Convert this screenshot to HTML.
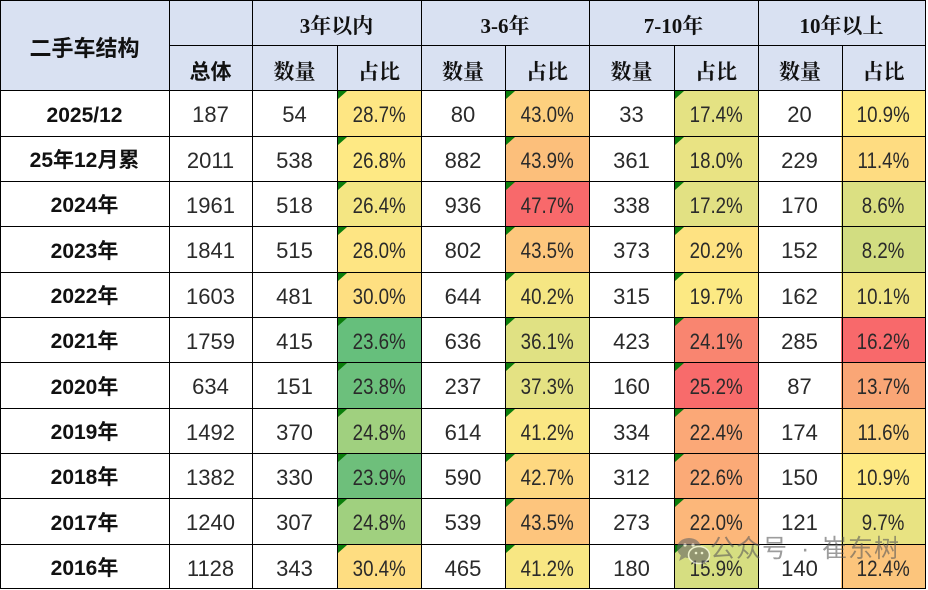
<!DOCTYPE html>
<html><head><meta charset="utf-8">
<style>
*{box-sizing:border-box;margin:0;padding:0}
body{width:928px;height:590px;background:#fff;position:relative;overflow:hidden;font-family:"Liberation Sans","Noto Sans CJK SC",sans-serif}
.a{position:absolute;display:flex;align-items:center;justify-content:center;white-space:nowrap}
.hs{font-family:"Liberation Sans","Noto Sans CJK SC",sans-serif;font-weight:bold;color:#111}
.hr{font-family:"Liberation Serif","Noto Serif CJK SC",serif;font-weight:bold;color:#111;font-size:21px;padding-top:5px}
#g{position:absolute;left:0;top:90px;display:grid;grid-template-columns:169px 83px 85px 84px 84px 84px 85px 84px 83px 84px;grid-template-rows:46px 45px 45px 46px 45px 45px 46px 45px 45px 46px 45px}
#g div{display:flex;align-items:center;justify-content:center;padding-top:4px;font-size:22px;color:#2a2a2a;position:relative;white-space:nowrap}
#g div.l{font-weight:bold;font-size:21px;color:#111;line-height:1}
#g div.p span{display:inline-block;transform:scaleX(0.85)}
#g div.t::before{content:"";position:absolute;left:1px;top:1px;border-top:8px solid #0B7D0B;border-right:9px solid transparent}
.h{position:absolute;height:1px;background:#000}
.v{position:absolute;width:1px;background:#000}
.wm{position:absolute;top:533px;font-family:'Liberation Sans','Noto Sans CJK SC',sans-serif;font-size:25px;line-height:32px;color:rgba(90,90,90,0.6);white-space:nowrap}
</style></head><body>
<div style="position:absolute;left:0;top:0;width:926px;height:90px;background:#D9E1F2"></div>

<div class="a hs" style="left:0;top:0;width:169px;height:90px;font-size:22px;padding-top:4px">二手车结构</div>
<div class="a hs" style="left:169px;top:45px;width:83px;height:45px;font-size:21px;padding-top:6px">总体</div>
<div class="a hr" style="left:252px;top:0;width:169px;height:45px">3年以内</div>
<div class="a hr" style="left:421px;top:0;width:168px;height:45px">3-6年</div>
<div class="a hr" style="left:589px;top:0;width:169px;height:45px">7-10年</div>
<div class="a hr" style="left:758px;top:0;width:167px;height:45px">10年以上</div>
<div class="a hr" style="left:252px;top:45px;width:85px;height:45px;padding-top:6px">数量</div>
<div class="a hr" style="left:337px;top:45px;width:84px;height:45px;padding-top:6px">占比</div>
<div class="a hr" style="left:421px;top:45px;width:84px;height:45px;padding-top:6px">数量</div>
<div class="a hr" style="left:505px;top:45px;width:84px;height:45px;padding-top:6px">占比</div>
<div class="a hr" style="left:589px;top:45px;width:85px;height:45px;padding-top:6px">数量</div>
<div class="a hr" style="left:674px;top:45px;width:84px;height:45px;padding-top:6px">占比</div>
<div class="a hr" style="left:758px;top:45px;width:84px;height:45px;padding-top:6px">数量</div>
<div class="a hr" style="left:842px;top:45px;width:83px;height:45px;padding-top:6px">占比</div>

<div id="g">
<div class="l">2025/12</div><div>187</div><div>54</div><div class="p t" style="background:#FEE683"><span>28.7%</span></div><div>80</div><div class="p t" style="background:#FDD07E"><span>43.0%</span></div><div>33</div><div class="p t" style="background:#E4E283"><span>17.4%</span></div><div>20</div><div class="p" style="background:#FEE983"><span>10.9%</span></div>
<div class="l">25年12月累</div><div>2011</div><div>538</div><div class="p t" style="background:#FEE984"><span>26.8%</span></div><div>882</div><div class="p t" style="background:#FCBF7B"><span>43.9%</span></div><div>361</div><div class="p t" style="background:#E9E383"><span>18.0%</span></div><div>229</div><div class="p" style="background:#FEDC81"><span>11.4%</span></div>
<div class="l">2024年</div><div>1961</div><div>518</div><div class="p t" style="background:#F4E683"><span>26.4%</span></div><div>936</div><div class="p t" style="background:#F8696B"><span>47.7%</span></div><div>338</div><div class="p t" style="background:#E2E183"><span>17.2%</span></div><div>170</div><div class="p" style="background:#DBE082"><span>8.6%</span></div>
<div class="l">2023年</div><div>1841</div><div>515</div><div class="p t" style="background:#FEE583"><span>28.0%</span></div><div>802</div><div class="p t" style="background:#FDC77D"><span>43.5%</span></div><div>373</div><div class="p t" style="background:#FEE282"><span>20.2%</span></div><div>152</div><div class="p" style="background:#D2DD81"><span>8.2%</span></div>
<div class="l">2022年</div><div>1603</div><div>481</div><div class="p t" style="background:#FEDF81"><span>30.0%</span></div><div>644</div><div class="p t" style="background:#F5E683"><span>40.2%</span></div><div>315</div><div class="p t" style="background:#FCE983"><span>19.7%</span></div><div>162</div><div class="p" style="background:#F0E583"><span>10.1%</span></div>
<div class="l">2021年</div><div>1759</div><div>415</div><div class="p t" style="background:#66BF7C"><span>23.6%</span></div><div>636</div><div class="p t" style="background:#E0E183"><span>36.1%</span></div><div>423</div><div class="p t" style="background:#F98570"><span>24.1%</span></div><div>285</div><div class="p" style="background:#F8696B"><span>16.2%</span></div>
<div class="l">2020年</div><div>634</div><div>151</div><div class="p t" style="background:#6CC07C"><span>23.8%</span></div><div>237</div><div class="p t" style="background:#E4E283"><span>37.3%</span></div><div>160</div><div class="p t" style="background:#F86B6B"><span>25.2%</span></div><div>87</div><div class="p" style="background:#FAA676"><span>13.7%</span></div>
<div class="l">2019年</div><div>1492</div><div>370</div><div class="p t" style="background:#A0D07F"><span>24.8%</span></div><div>614</div><div class="p t" style="background:#FAE783"><span>41.2%</span></div><div>334</div><div class="p t" style="background:#FBA877"><span>22.4%</span></div><div>174</div><div class="p" style="background:#FDD47F"><span>11.6%</span></div>
<div class="l">2018年</div><div>1382</div><div>330</div><div class="p t" style="background:#6EBF7B"><span>23.9%</span></div><div>590</div><div class="p t" style="background:#FED880"><span>42.7%</span></div><div>312</div><div class="p t" style="background:#FBAA77"><span>22.6%</span></div><div>150</div><div class="p" style="background:#FEE983"><span>10.9%</span></div>
<div class="l">2017年</div><div>1240</div><div>307</div><div class="p t" style="background:#A0D07F"><span>24.8%</span></div><div>539</div><div class="p t" style="background:#FDC57D"><span>43.5%</span></div><div>273</div><div class="p t" style="background:#FCB77A"><span>22.0%</span></div><div>121</div><div class="p" style="background:#E8E382"><span>9.7%</span></div>
<div class="l">2016年</div><div>1128</div><div>343</div><div class="p t" style="background:#FEDD81"><span>30.4%</span></div><div>465</div><div class="p t" style="background:#F8E783"><span>41.2%</span></div><div>180</div><div class="p t" style="background:#D6DE81"><span>15.9%</span></div><div>140</div><div class="p" style="background:#FCC57C"><span>12.4%</span></div>
</div>

<!-- horizontal lines -->
<div class="h" style="left:0;top:0;width:926px"></div>
<div class="h" style="left:169px;top:45px;width:757px"></div>
<div class="h" style="left:0;top:90px;width:926px"></div>
<div class="h" style="left:0;top:136px;width:926px"></div>
<div class="h" style="left:0;top:181px;width:926px"></div>
<div class="h" style="left:0;top:226px;width:926px"></div>
<div class="h" style="left:0;top:272px;width:926px"></div>
<div class="h" style="left:0;top:317px;width:926px"></div>
<div class="h" style="left:0;top:362px;width:926px"></div>
<div class="h" style="left:0;top:408px;width:926px"></div>
<div class="h" style="left:0;top:453px;width:926px"></div>
<div class="h" style="left:0;top:498px;width:926px"></div>
<div class="h" style="left:0;top:544px;width:926px"></div>
<div class="h" style="left:0;top:588px;width:926px"></div>
<!-- vertical lines -->
<div class="v" style="left:0;top:0;height:589px"></div>
<div class="v" style="left:169px;top:0;height:589px"></div>
<div class="v" style="left:252px;top:0;height:589px"></div>
<div class="v" style="left:337px;top:45px;height:544px"></div>
<div class="v" style="left:421px;top:0;height:589px"></div>
<div class="v" style="left:505px;top:45px;height:544px"></div>
<div class="v" style="left:589px;top:0;height:589px"></div>
<div class="v" style="left:674px;top:45px;height:544px"></div>
<div class="v" style="left:758px;top:0;height:589px"></div>
<div class="v" style="left:842px;top:45px;height:544px"></div>
<div class="v" style="left:925px;top:0;height:589px"></div>

<!-- watermark -->
<svg style="position:absolute;left:675px;top:536px" width="36" height="30" viewBox="0 0 36 30">
<g opacity="0.6">
<ellipse cx="14" cy="12" rx="12" ry="10" fill="#666"/>
<path d="M6 19 L4 25 L11 21 Z" fill="#666"/>
<ellipse cx="24" cy="19" rx="10.5" ry="8.5" fill="#666" stroke="#fff" stroke-width="1.5"/>
<path d="M29 25 L32 29 L26 27 Z" fill="#666"/>
<circle cx="10" cy="9" r="1.6" fill="#fff"/>
<circle cx="18" cy="9" r="1.6" fill="#fff"/>
<circle cx="21" cy="17" r="1.3" fill="#fff"/>
<circle cx="27" cy="17" r="1.3" fill="#fff"/>
</g>
</svg>
<div class="wm" style="left:710px;letter-spacing:1px">公众号</div>
<div class="wm" style="left:801px">·</div>
<div class="wm" style="left:822px;letter-spacing:1px">崔东树</div>
</body></html>
